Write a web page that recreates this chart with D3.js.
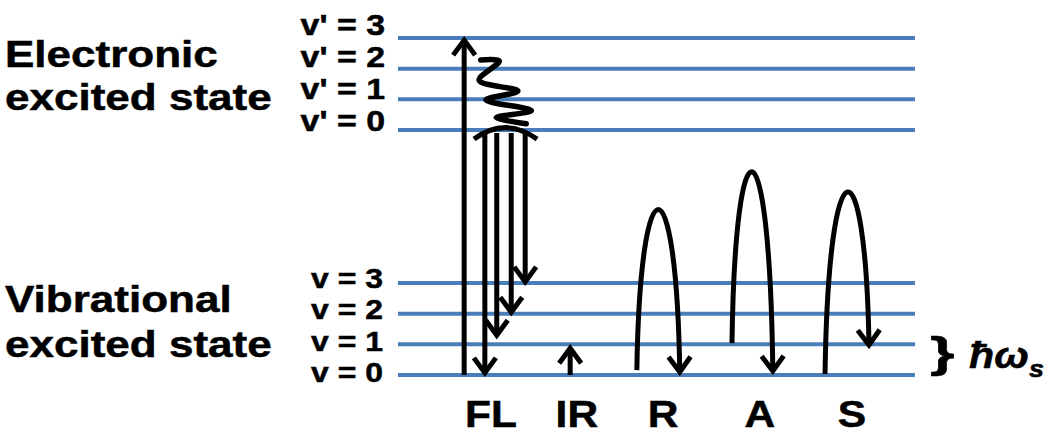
<!DOCTYPE html>
<html>
<head>
<meta charset="utf-8">
<script src="https://cdn.jsdelivr.net/npm/d3@7"></script>
<style>
  body { margin: 0; background: #fff; }
  svg text { font-family: "Liberation Sans", Arial, sans-serif; font-weight: bold; fill: #000; stroke: #000; stroke-width: 0.5px; }
</style>
</head>
<body>
<div id="chart"></div>
<script>
// energy levels (units of one ground vibrational quantum)
var groundEnergy = [0, 1, 2, 3];
var excitedEnergy = [8, 9, 10, 11];
var groundLabels = ["v = 0", "v = 1", "v = 2", "v = 3"];
var excitedLabels = ["v' = 0", "v' = 1", "v' = 2", "v' = 3"];

// processes along the levels (x in % of level width)
var processNames = ["FL", "IR", "R", "A", "S"];
var processX = [18.0, 34.6, 51.3, 70.0, 87.8];

// FL: absorption, relaxation squiggle, dome, emission
var absorbX = 12.8, absorbFrom = 0, absorbTo = 10.93;
var squiggleX = [16.0, 19.6, 15.7, 23.2, 17.0, 25.8, 19.0, 24.8];
var squiggleE = [10.28, 10.25, 9.62, 9.27, 8.98, 8.63, 8.40, 8.2];
var domeX = [14.7, 20.7, 26.9];
var domeE = [7.70, 8.45, 7.70];
var emitX = [16.8, 19.1, 21.9, 24.6];
var emitFrom = 7.9;
var emitTo = [0.07, 1.3, 2.05, 3.04];

// IR
var irX = 33.3, irFrom = 0, irTo = 0.87;

// R, A, S arches
var archX0 = [46.2, 64.6, 82.6];
var archX1 = [54.5, 72.5, 91.1];
var archE0 = [0.16, 1.04, 0.03];
var archE1 = [0.1, 0.13, 0.98];
var archPeak = [5.4, 6.63, 5.97];

var width = 1053, height = 435;
var blue = "#4a7ebb";

var svg = d3.select("#chart").append("svg")
            .attr("width", width)
            .attr("height", height);

var x = d3.scaleLinear().domain([0, 100]).range([398, 915]);
var y = d3.scaleLinear().domain([0, 11]).range([375, 38]);

// arrow head marker
svg.append("defs").append("marker")
   .attr("id", "head")
   .attr("markerUnits", "userSpaceOnUse")
   .attr("viewBox", "-22 -16 30 32")
   .attr("markerWidth", 30)
   .attr("markerHeight", 32)
   .attr("refX", 0)
   .attr("refY", 0)
   .attr("orient", "auto")
   .append("path")
   .attr("d", "M-15,-11 L0,0 L-15,11")
   .attr("fill", "none")
   .attr("stroke", "#000")
   .attr("stroke-width", 5);

// level lines
var levels = groundEnergy.concat(excitedEnergy);
svg.selectAll("line.level").data(levels).enter().append("line")
   .attr("class", "level")
   .attr("x1", x(0)).attr("x2", x(100))
   .attr("y1", d => y(d)).attr("y2", d => y(d))
   .attr("stroke", blue)
   .attr("stroke-width", 4);

// level labels (right aligned, stretched a little)
var exLabelY = d3.scaleLinear().domain([0, 3]).range([131, 35]);
var grLabelY = d3.scaleLinear().domain([0, 3]).range([382, 288]);

function stretchText(sel, sx) {
  return sel.attr("transform", function(d) {
    return `translate(${d.x},${d.y}) scale(${sx},1)`;
  });
}

stretchText(svg.selectAll("text.exlab").data(excitedLabels.map((t, i) => ({t: t, x: 385, y: exLabelY(i)})))
   .enter().append("text")
   .attr("class", "exlab")
   .attr("text-anchor", "end")
   .attr("font-size", 30)
   .text(d => d.t), 1.13);

stretchText(svg.selectAll("text.grlab").data(groundLabels.map((t, i) => ({t: t, x: 383, y: grLabelY(i)})))
   .enter().append("text")
   .attr("class", "grlab")
   .attr("text-anchor", "end")
   .attr("font-size", 28)
   .text(d => d.t), 1.14);

// state titles
var titles = [
  {t: "Electronic", x: 5, y: 67},
  {t: "excited state", x: 5, y: 110},
  {t: "Vibrational", x: 5, y: 312},
  {t: "excited state", x: 5, y: 357}
];
stretchText(svg.selectAll("text.title").data(titles).enter().append("text")
   .attr("class", "title")
   .attr("font-size", 37)
   .text(d => d.t), 1.19);

// process names
stretchText(svg.selectAll("text.proc").data(processNames.map((t, i) => ({t: t, x: x(processX[i]), y: 427})))
   .enter().append("text")
   .attr("class", "proc")
   .attr("text-anchor", "middle")
   .attr("font-size", 37)
   .text(d => d.t), 1.15);

var ink = svg.append("g")
             .attr("fill", "none")
             .attr("stroke", "#000")
             .attr("stroke-width", 5);

// FL absorption
ink.append("line")
   .attr("x1", x(absorbX)).attr("x2", x(absorbX))
   .attr("y1", y(absorbFrom)).attr("y2", y(absorbTo))
   .attr("marker-end", "url(#head)");

// vibrational relaxation squiggle
var squig = d3.line().x(d => x(d[0])).y(d => y(d[1])).curve(d3.curveCatmullRom.alpha(0.5));
ink.append("path")
   .attr("d", squig(d3.zip(squiggleX, squiggleE)))
   .attr("stroke-width", 5.5)
   .attr("stroke-linecap", "round")
   .attr("stroke-linejoin", "round");

// dome
var dp = d3.path();
dp.moveTo(x(domeX[0]), y(domeE[0]));
dp.quadraticCurveTo(x(domeX[1]), y(domeE[1]), x(domeX[2]), y(domeE[2]));
ink.append("path").attr("d", dp.toString());

// emission arrows
ink.selectAll("line.emit").data(d3.zip(emitX, emitTo)).enter().append("line")
   .attr("class", "emit")
   .attr("x1", d => x(d[0])).attr("x2", d => x(d[0]))
   .attr("y1", y(emitFrom)).attr("y2", d => y(d[1]))
   .attr("marker-end", "url(#head)");

// IR
ink.append("line")
   .attr("x1", x(irX)).attr("x2", x(irX))
   .attr("y1", y(irFrom)).attr("y2", y(irTo))
   .attr("marker-end", "url(#head)");

// Raman-type arches
var arches = archX0.map((v, i) => ({x0: v, x1: archX1[i], e0: archE0[i], e1: archE1[i], p: archPeak[i]}));
ink.selectAll("path.arch").data(arches).enter().append("path")
   .attr("class", "arch")
   .attr("d", function(d) {
     var X0 = x(d.x0), X1 = x(d.x1), Y0 = y(d.e0), Y1 = y(d.e1), P = y(d.p);
     var w = X1 - X0;
     var c = (P - 0.125 * (Y0 + Y1)) / 0.75;
     var p = d3.path();
     p.moveTo(X0, Y0);
     p.bezierCurveTo(X0 + 0.08 * w, c, X1 - 0.08 * w, c, X1, Y1);
     return p.toString();
   })
   .attr("marker-end", "url(#head)");

// spacing brace and label
svg.append("text")
   .attr("transform", "translate(930,367) scale(1.5,1)")
   .attr("font-size", 42)
   .attr("stroke-width", 1.2)
   .text("}");

var hw = svg.append("text")
            .attr("transform", "translate(969,368) scale(1.12,1)")
            .attr("font-size", 37)
            .attr("font-style", "italic");
hw.append("tspan").text("ħω");
hw.append("tspan").attr("font-size", 24).attr("dy", 9).text("s");
</script>
</body>
</html>
